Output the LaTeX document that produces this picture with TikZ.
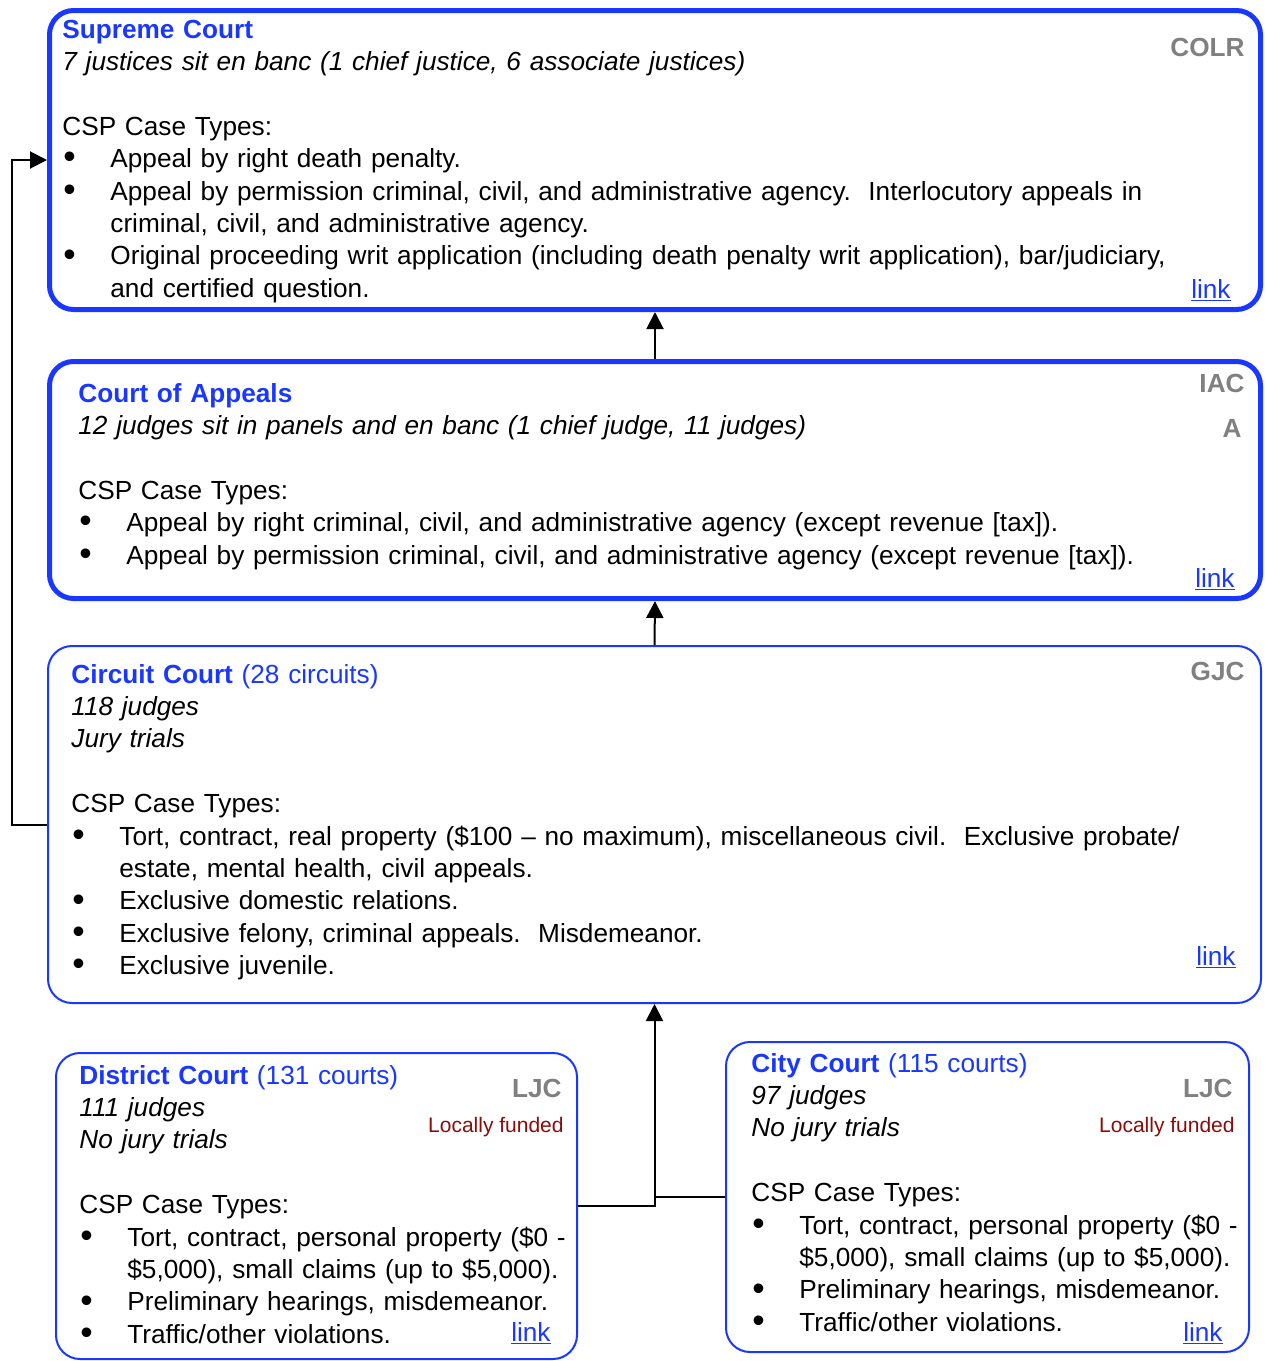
\documentclass[tikz,border=0pt]{standalone}
\usepackage{fontspec}
\setmainfont{Liberation Sans}
\usetikzlibrary{arrows.meta}
\usetikzlibrary{positioning}

\definecolor{courtblue}{RGB}{25,55,255}
\definecolor{taggray}{RGB}{128,128,128}
\definecolor{fundred}{RGB}{140,10,10}

\newcommand\bodysize{\fontsize{13.1}{16.2}\selectfont}
\newcommand\ttl[2]{\textcolor{courtblue}{\textbf{#1}#2}}
\newcommand\bitem[1]{\par\hangindent=24pt\noindent\makebox[24pt][l]{\hspace{0.5pt}\raisebox{-0.6pt}{\scalebox{1.35}{\textbullet}}}#1}

\begin{document}
\begin{tikzpicture}
    [x=0.5pt, y=-0.5pt,
     court/.style={rectangle, draw=courtblue, line width=1pt, rounded corners=12pt, anchor=north west, inner sep=0pt},
     high/.style={court, line width=2.5pt},
     txt/.style={anchor=base west, inner sep=0pt, text width=#1, align=left, font=\bodysize},
     txt/.default=590pt,
     tag/.style={anchor=base east, inner sep=0pt, font=\bodysize\bfseries, text=taggray},
     fund/.style={anchor=base east, inner sep=0pt, font=\fontsize{10.5}{12}\selectfont, text=fundred},
     lnk/.style={anchor=base east, inner sep=0pt, font=\bodysize, text=courtblue},
     up/.style={-{Triangle[width=8.5pt,length=8.5pt]}, line width=1pt}]

    \useasboundingbox (0,0) rectangle (1266,1361);

    % court boxes
    \node [high, minimum width=605.5pt, minimum height=149.5pt] (sc) at (47,8) {};
    \node [high, minimum width=605.5pt, minimum height=118.5pt] (ca) at (47,359) {};
    \node [court, minimum width=606.5pt, minimum height=178.5pt] (cc) at (47,645) {};
    \node [court, minimum width=260.5pt, minimum height=153pt] (dc) at (55,1052) {};
    \node [court, minimum width=261.5pt, minimum height=155pt] (ct) at (725,1041) {};

    % supreme court
    \node [txt] (sc-txt) at (62,38) {
    \ttl{Supreme Court}{}\par
    \textit{7 justices sit en banc (1 chief justice, 6 associate justices)}\par
    \vspace{16.2pt}CSP Case Types:
    \bitem{Appeal by right death penalty.}
    \bitem{Appeal by permission criminal, civil, and administrative agency.\ \ Interlocutory appeals in\newline criminal, civil, and administrative agency.}
    \bitem{Original proceeding writ application (including death penalty writ application), bar/judiciary,\newline and certified question.}\par
    };
    \node [tag] (sc-tag) at (1245,56) {COLR};
    \node [lnk] (sc-lnk) at (1231,298) {\underline{link}};

    % court of appeals
    \node [txt] (ca-txt) at (78,402) {
    \ttl{Court of Appeals}{}\par
    \textit{12 judges sit in panels and en banc (1 chief judge, 11 judges)}\par
    \vspace{16.2pt}CSP Case Types:
    \bitem{Appeal by right criminal, civil, and administrative agency (except revenue [tax]).}
    \bitem{Appeal by permission criminal, civil, and administrative agency (except revenue [tax]).}\par
    };
    \node [tag] (ca-tag) at (1245,392) {IAC};
    \node [tag] (ca-tag2) at (1242,437) {A};
    \node [lnk] (ca-lnk) at (1235,587) {\underline{link}};

    % circuit court
    \node [txt] (cc-txt) at (71,683) {
    \ttl{Circuit Court}{ (28 circuits)}\par
    \textit{118 judges}\par
    \textit{Jury trials}\par
    \vspace{16.2pt}CSP Case Types:
    \bitem{Tort, contract, real property (\$100 -- no maximum), miscellaneous civil.\ \ Exclusive probate/\newline estate, mental health, civil appeals.}
    \bitem{Exclusive domestic relations.}
    \bitem{Exclusive felony, criminal appeals.\ \ Misdemeanor.}
    \bitem{Exclusive juvenile.}\par
    };
    \node [tag] (cc-tag) at (1245,680) {GJC};
    \node [lnk] (cc-lnk) at (1236,965) {\underline{link}};

    % district court
    \node [txt=300pt] (dc-txt) at (79,1084) {
    \ttl{District Court}{ (131 courts)}\par
    \textit{111 judges}\par
    \textit{No jury trials}\par
    \vspace{16.2pt}CSP Case Types:
    \bitem{Tort, contract, personal property (\$0 -\newline \$5,000), small claims (up to \$5,000).}
    \bitem{Preliminary hearings, misdemeanor.}
    \bitem{Traffic/other violations.}\par
    };
    \node [tag] (dc-tag) at (562,1097) {LJC};
    \node [fund] (dc-fund) at (564,1132) {Locally funded};
    \node [lnk] (dc-lnk) at (551,1341) {\underline{link}};

    % city court
    \node [txt=300pt] (ct-txt) at (751,1072) {
    \ttl{City Court}{ (115 courts)}\par
    \textit{97 judges}\par
    \textit{No jury trials}\par
    \vspace{16.2pt}CSP Case Types:
    \bitem{Tort, contract, personal property (\$0 -\newline \$5,000), small claims (up to \$5,000).}
    \bitem{Preliminary hearings, misdemeanor.}
    \bitem{Traffic/other violations.}\par
    };
    \node [tag] (ct-tag) at (1233,1097) {LJC};
    \node [fund] (ct-fund) at (1235,1132) {Locally funded};
    \node [lnk] (ct-lnk) at (1223,1341) {\underline{link}};

    % appeal routes
    \draw [up] (ca.north) -- (sc.south);
    \draw [up] (cc.north) -- (ca.south);
    \draw [up] (dc.east) -| (cc.south);
    \draw [line width=1pt] (ct.west) -- (ct.west -| cc.south);
    \draw [up] (cc.west) -- ([xshift=-17.5pt] cc.west) |- (sc.west);
\end{tikzpicture}
\end{document}
